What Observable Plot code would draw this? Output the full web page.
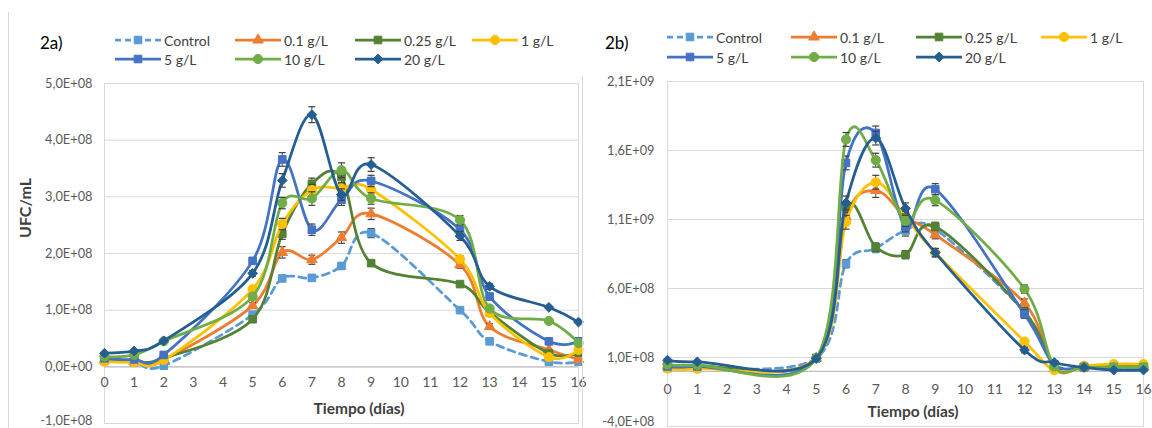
<!DOCTYPE html>
<html><head><meta charset="utf-8">
<script src="https://cdn.jsdelivr.net/npm/d3@7"></script>
<script src="https://cdn.jsdelivr.net/npm/@observablehq/plot@0.6"></script>
<style>
body{margin:0;background:#fff;width:1152px;height:428px;overflow:hidden;position:relative;font-family:Lato,"Open Sans",sans-serif;color:#404040;}
.abs{position:absolute;white-space:nowrap;}
.leg{position:absolute;display:flex;align-items:center;font-size:14px;color:#404040;height:20px;}
.leg span{margin-left:3px;}
.ttl{font-weight:bold;font-size:15.5px;color:#404040;}
</style></head><body>
<script>
// ---------- data ----------
const seriesNames = ["Control","0.1 g/L","0.25 g/L","1 g/L","5 g/L","10 g/L","20 g/L"];
const seriesColors = ["#5B9BD5","#ED7D31","#548235","#FFC000","#4472C4","#70AD47","#255E91"];
const seriesSymbols = ["square","triangle","square","circle","square","circle","diamond2"];
const seriesR = [4.3,3.9,4.3,4.6,4.3,4.6,4.4];

// Panel 2a (UFC/mL, in units of 1E+08)
const daysA = [0,1,2,5,6,7,8,9,12,13,15,16];
const a_control = [0.10,0.08,0.02,0.92,1.56,1.57,1.78,2.36,1.00,0.45,0.09,0.09];
const a_01      = [0.12,0.09,0.13,1.08,2.02,1.89,2.28,2.70,1.80,0.71,0.30,0.13];
const a_025     = [0.15,0.10,0.15,0.84,2.35,3.23,3.35,1.83,1.46,0.96,0.24,0.25];
const a_1       = [0.09,0.08,0.12,1.37,2.52,3.12,3.15,3.13,1.90,0.95,0.17,0.30];
const a_5       = [0.15,0.13,0.21,1.87,3.66,2.42,2.95,3.28,2.42,1.24,0.45,0.45];
const a_10      = [0.18,0.21,0.45,1.24,2.89,2.97,3.47,2.97,2.59,1.03,0.81,0.42];
const a_20      = [0.24,0.28,0.46,1.65,3.29,4.45,3.04,3.57,2.31,1.42,1.05,0.79];
const aErr_control = [0,0,0,0.03,0.03,0.05,0.05,0.08,0.03,0.03,0,0];
const aErr_01      = [0,0,0,0.05,0.10,0.08,0.10,0.10,0.06,0.05,0,0];
const aErr_025     = [0,0,0,0.03,0.10,0.10,0.12,0.04,0.03,0.03,0,0];
const aErr_1       = [0,0,0,0.05,0.10,0.10,0.10,0.10,0.06,0.05,0,0];
const aErr_5       = [0,0,0,0.05,0.12,0.10,0.10,0.10,0.08,0.06,0,0];
const aErr_10      = [0,0,0,0.05,0.10,0.12,0.13,0.10,0.08,0.05,0,0];
const aErr_20      = [0,0,0,0.05,0.12,0.14,0.10,0.12,0.08,0.05,0,0];
const aYTicks  = [-1,0,1,2,3,4,5];
const aYLabels = ["-1,0E+08","0,0E+00","1,0E+08","2,0E+08","3,0E+08","4,0E+08","5,0E+08"];

// Panel 2b (UFC/mL, in units of 1E+08)
const daysB = [0,1,5,6,7,8,9,12,13,14,15,16];
const b_control = [0.23,0.23,0.95,7.80,8.90,10.20,10.30,4.30,0.50,0.30,0.30,0.30];
const b_01      = [0.35,0.35,0.95,11.20,13.10,11.20,9.90,4.94,0.20,0.30,0.35,0.35];
const b_025     = [0.45,0.40,0.95,11.90,9.00,8.45,10.50,4.30,0.45,0.30,0.30,0.30];
const b_1       = [0.20,0.18,0.95,10.80,13.70,11.20,8.60,2.16,0.09,0.40,0.52,0.52];
const b_5       = [0.35,0.35,0.95,15.10,17.27,10.50,13.20,4.14,0.50,0.30,0.30,0.30];
const b_10      = [0.50,0.45,0.95,16.80,15.30,10.90,12.40,5.96,0.35,0.30,0.30,0.30];
const b_20      = [0.81,0.69,0.93,12.20,16.90,11.80,8.60,1.54,0.64,0.28,0.09,0.09];
const bErr_control = [0,0,0,0.30,0.30,0.40,0.30,0.20,0,0,0,0];
const bErr_01      = [0,0,0,0.40,0.50,0.40,0.30,0.30,0,0,0,0];
const bErr_025     = [0,0,0,0.40,0.30,0.30,0.30,0.20,0,0,0,0];
const bErr_1       = [0,0,0,0.50,0.50,0.40,0.30,0.20,0,0,0,0];
const bErr_5       = [0,0,0,0.50,0.50,0.40,0.40,0.30,0,0,0,0];
const bErr_10      = [0,0,0,0.50,0.50,0.40,0.40,0.30,0,0,0,0];
const bErr_20      = [0,0,0,0.50,0.50,0.40,0.30,0.20,0,0,0,0];
const bYTicks  = [-4,1,6,11,16,21];
const bYLabels = ["-4,0E+08","1,0E+08","6,0E+08","1,1E+09","1,6E+09","2,1E+09"];

const xTickLabels = [0,1,2,3,4,5,6,7,8,9,10,11,12,13,14,15,16];

// ---------- build ----------
function table(days, vals, errs){
  const rows = [];
  vals.forEach((arr, s) => arr.forEach((v, i) => rows.push({s, name: seriesNames[s], day: days[i], v, e: errs[s][i]})));
  return rows;
}
const capSymbol = {draw(ctx){ ctx.moveTo(-3.5,0); ctx.lineTo(3.5,0); }};

function panel(opt){
  const rows = table(opt.days, opt.vals, opt.errs);
  const yt = opt.yTicks.map((t, i) => ({t, label: opt.yLabels[i]}));
  const marks = [
    Plot.ruleY(opt.yTicks, {stroke:"#d9d9d9", strokeWidth:1}),
    Plot.frame({stroke:"#d9d9d9"}),
    Plot.ruleY([0], {stroke:"#bfbfbf", strokeWidth:1.2}),
    // lowest tick label nudged up so it stays inside the page
    Plot.text(yt.slice(0, 1), {y:"t", frameAnchor:"left", textAnchor:"end", dx:-opt.yPad, dy:-opt.lowNudge, text:"label", fontSize:12.8, fill:"#595959"}),
    Plot.text(yt.slice(1), {y:"t", frameAnchor:"left", textAnchor:"end", dx:-opt.yPad, text:"label", fontSize:12.8, fill:"#595959"}),
    Plot.text(xTickLabels, {x:d=>d, y:0, dy:opt.xDy, text:d=>String(d), fontSize:14, fill:"#595959"})
  ];
  seriesNames.forEach((name, s) => {
    const d = rows.filter(r => r.s === s);
    const er = d.filter(r => r.e > 0);
    marks.push(
      Plot.line(d, {x:"day", y:"v", stroke:seriesColors[s], strokeWidth:2.75, curve:"cardinal", strokeDasharray: s===0 ? "7,5" : null, strokeLinejoin:"round"}),
      Plot.ruleX(er, {x:"day", y1:r=>r.v-r.e, y2:r=>r.v+r.e, stroke:"#404040", strokeWidth:1}),
      Plot.dot(er, {x:"day", y:r=>r.v+r.e, symbol:capSymbol, stroke:"#404040", strokeWidth:1.2, fill:"none", r:3}),
      Plot.dot(er, {x:"day", y:r=>r.v-r.e, symbol:capSymbol, stroke:"#404040", strokeWidth:1.2, fill:"none", r:3}),
      Plot.dot(d, {x:"day", y:"v", symbol:seriesSymbols[s], fill:seriesColors[s], stroke:seriesColors[s], strokeWidth:1, r:seriesR[s]})
    );
  });
  const svg = Plot.plot({
    width: opt.width, height: opt.height,
    marginLeft: opt.ml, marginRight: opt.mr, marginTop: opt.mt, marginBottom: opt.mb,
    x: {domain:[0,16], axis:null},
    y: {domain: opt.yDomain, axis:null},
    style: {fontFamily:"Lato, 'Open Sans', sans-serif", background:"transparent", overflow:"visible"},
    marks
  });
  svg.style.position = "absolute";
  svg.style.left = opt.left + "px";
  svg.style.top = opt.top + "px";
  document.body.appendChild(svg);
}

panel({left:0, top:75, width:582, height:353, ml:104, mr:4, mt:8, mb:5,
  yDomain:[-1,5], yTicks:aYTicks, yLabels:aYLabels, yPad:12, xDy:16, lowNudge:3,
  days:daysA, vals:[a_control,a_01,a_025,a_1,a_5,a_10,a_20],
  errs:[aErr_control,aErr_01,aErr_025,aErr_1,aErr_5,aErr_10,aErr_20]});
panel({left:582, top:75, width:570, height:353, ml:85, mr:9, mt:6, mb:2,
  yDomain:[-4,21], yTicks:bYTicks, yLabels:bYLabels, yPad:13, xDy:18, lowNudge:5,
  days:daysB, vals:[b_control,b_01,b_025,b_1,b_5,b_10,b_20],
  errs:[bErr_control,bErr_01,bErr_025,bErr_1,bErr_5,bErr_10,bErr_20]});

// ---------- text, legends ----------
function addDiv(html, css, cls){
  const el = document.createElement("div");
  el.className = cls || "abs";
  el.innerHTML = html;
  Object.assign(el.style, css);
  document.body.appendChild(el);
  return el;
}
// chart area borders
addDiv("", {left:"8px", top:"12px", width:"0", height:"420px", borderLeft:"1px solid #d9d9d9"});
addDiv("", {left:"582px", top:"76px", width:"0", height:"360px", borderLeft:"1px solid #d9d9d9"});

addDiv("2a)", {left:"40px", top:"32px", fontSize:"17px", color:"#000"});
addDiv("2b)", {left:"605px", top:"32px", fontSize:"17px", color:"#000"});
addDiv("UFC/mL", {left:"24px", top:"208px", transform:"translate(-50%,-50%) rotate(-90deg)", fontSize:"16px"}, "abs ttl");
addDiv("Tiempo (días)", {left:"359px", top:"408px", transform:"translate(-50%,-50%)"}, "abs ttl");
addDiv("Tiempo (días)", {left:"913px", top:"411px", transform:"translate(-50%,-50%)"}, "abs ttl");

function legend(colX, rowY){
  seriesNames.forEach((name, s) => {
    const col = s < 4 ? s : s - 4, row = s < 4 ? 0 : 1;
    const el = addDiv("", {left: colX[col] + "px", top: (rowY[row] - 10) + "px"}, "leg");
    const svg = d3.create("svg").attr("width", 46).attr("height", 20);
    svg.append("line").attr("x1",0).attr("x2",46).attr("y1",10).attr("y2",10)
      .attr("stroke", seriesColors[s]).attr("stroke-width", 2.75)
      .attr("stroke-dasharray", s===0 ? "6,4" : null);
    const symMap = {square:d3.symbolSquare, triangle:d3.symbolTriangle, circle:d3.symbolCircle, diamond2:d3.symbolDiamond2};
    svg.append("path").attr("transform","translate(23,10)")
      .attr("d", d3.symbol(symMap[seriesSymbols[s]], Math.PI*seriesR[s]*seriesR[s])())
      .attr("fill", seriesColors[s]).attr("stroke", seriesColors[s]);
    el.appendChild(svg.node());
    const sp = document.createElement("span"); sp.textContent = name; el.appendChild(sp);
  });
}
legend([115,235,355,472],[40,59]);
legend([667,791,916,1041],[37,57]);
</script>
</body></html>
